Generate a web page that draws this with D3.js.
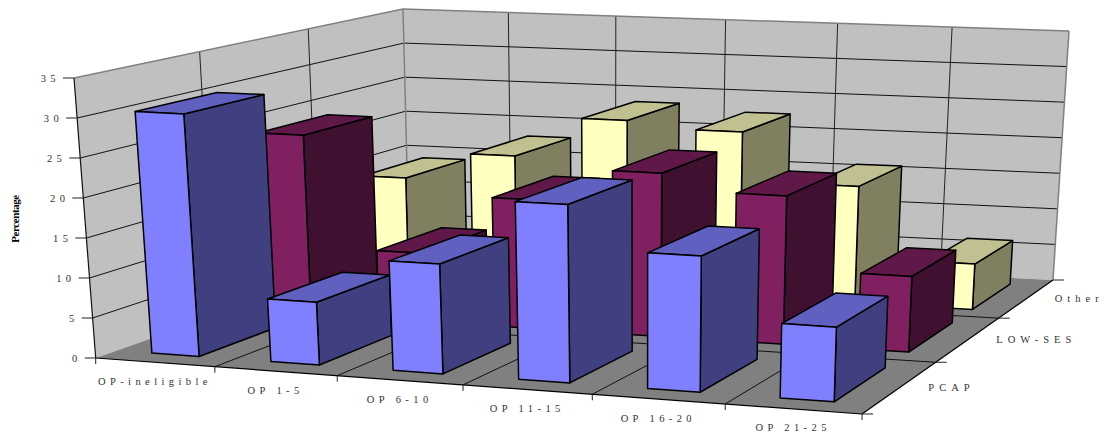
<!DOCTYPE html>
<html>
<head>
<meta charset="utf-8">
<style>
  html, body { margin: 0; padding: 0; background: #fff; }
  svg { display: block; }
  text { font-family: "Liberation Serif", serif; fill: #333; }
</style>
<script src="https://cdn.jsdelivr.net/npm/d3@7"></script>
</head>
<body>
<svg id="chart" width="1104" height="434"></svg>
<script>
const categories = ["OP-ineligible", "OP 1-5", "OP 6-10", "OP 11-15", "OP 16-20", "OP 21-25"];
const seriesNames = ["PCAP", "LOW-SES", "Other"];
const pcap = [30.4, 7.8, 13.5, 21.7, 16.4, 8.9];
const lowSes = [23.8, 9, 16.8, 21.1, 19, 9.6];
const other = [14, 17.8, 23.4, 22.5, 15.8, 6.1];
const valueTicks = [0, 5, 10, 15, 20, 25, 30, 35];
const seriesValues = [pcap, lowSes, other];
const palettes = [
  { front: "#8080ff", side: "#404080", top: "#6060c0" },
  { front: "#802060", side: "#401030", top: "#601848" },
  { front: "#ffffc0", side: "#808060", top: "#c0c090" }
];

// Data scales: category and series bands on the floor, percentage upward.
const xBand = d3.scaleBand().domain(categories).range([0, 1]).paddingInner(0.6).paddingOuter(0.3);
const zBand = d3.scaleBand().domain(seriesNames).range([0, 1]).paddingInner(1 / 3).paddingOuter(1 / 6);
const yLin = d3.scaleLinear().domain([0, 35]).range([0, 1]);

// The plot box: floor and ceiling quadrilaterals, front-left, front-right, back-right, back-left.
const floorCorners = [[95.7, 358], [862, 414], [1053, 280], [409, 247.5]];
const ceilingCorners = [[74, 78], [872, 116], [1069, 31], [403, 9]];
const widthEase = 0.047;

function squareToQuad(q) {
  const [[x0, y0], [x1, y1], [x2, y2], [x3, y3]] = q;
  const dx1 = x1 - x2, dx2 = x3 - x2, sx = x0 - x1 + x2 - x3;
  const dy1 = y1 - y2, dy2 = y3 - y2, sy = y0 - y1 + y2 - y3;
  const den = dx1 * dy2 - dx2 * dy1;
  const g = (sx * dy2 - dx2 * sy) / den;
  const h = (dx1 * sy - sx * dy1) / den;
  return [
    [x1 - x0 + g * x1, x3 - x0 + h * x3, x0],
    [y1 - y0 + g * y1, y3 - y0 + h * y3, y0],
    [g, h, 1]
  ];
}
const floorMap = squareToQuad(floorCorners);
const ceilingMap = squareToQuad(ceilingCorners);

function applyMap(H, x, z) {
  const r = i => H[i][0] * x + H[i][1] * z + H[i][2];
  return [r(0) / r(2), r(1) / r(2)];
}

// A point in the box: x and z across the floor, y from floor (0) to ceiling (1).
// Category widths grow a little more slowly toward the viewer than the bare quad implies.
function project(x, z, y) {
  const xe = x * (1 + widthEase) / (1 + widthEase * x);
  const a = applyMap(floorMap, xe, z), b = applyMap(ceilingMap, xe, z);
  return [a[0] + (b[0] - a[0]) * y, a[1] + (b[1] - a[1]) * y];
}

const svg = d3.select("#chart");
const outline = d3.line();
const polygon = (g, pts, fill, stroke, width) => g.append("path")
  .attr("d", outline(pts) + "Z")
  .attr("fill", fill).attr("stroke", stroke || "none").attr("stroke-width", width || 0)
  .attr("stroke-linejoin", "round");
const segment = (g, a, b, stroke, width) => g.append("path")
  .attr("d", outline([a, b])).attr("fill", "none")
  .attr("stroke", stroke).attr("stroke-width", width);

// Walls and floor
const box = svg.append("g");
polygon(box, [project(0, 0, 0), project(0, 1, 0), project(0, 1, 1), project(0, 0, 1)], "#c0c0c0");
polygon(box, [project(0, 1, 0), project(1, 1, 0), project(1, 1, 1), project(0, 1, 1)], "#c0c0c0");
polygon(box, [project(0, 0, 0), project(1, 0, 0), project(1, 1, 0), project(0, 1, 0)], "#808080");

// Horizontal rules on both walls, vertical rules at the category and series steps
const grid = svg.append("g");
valueTicks.slice(1, -1).forEach(t => {
  const y = yLin(t);
  segment(grid, project(0, 0, y), project(0, 1, y), "#111", 1);
  segment(grid, project(0, 1, y), project(1, 1, y), "#111", 1);
});
d3.range(1, categories.length).forEach(i => {
  const x = i / categories.length;
  segment(grid, project(x, 1, 0), project(x, 1, 1), "#222", 1);
  segment(grid, project(x, 0, 0), project(x, 1, 0), "#111", 1);
});
d3.range(1, seriesNames.length).forEach(i => {
  const z = i / seriesNames.length;
  segment(grid, project(0, z, 0), project(0, z, 1), "#222", 1);
  segment(grid, project(0, z, 0), project(1, z, 0), "#111", 1);
});

// Wall borders and axis edges
segment(grid, project(0, 0, 1), project(0, 1, 1), "#808080", 1.5);
segment(grid, project(0, 1, 1), project(1, 1, 1), "#808080", 1.5);
segment(grid, project(1, 1, 1), project(1, 1, 0), "#808080", 1.5);
segment(grid, project(0, 1, 0), project(0, 1, 1), "#808080", 1.5);
segment(grid, project(0, 0, 0), project(0, 0, 1), "#111", 1.2);
segment(grid, project(0, 0, 0), project(1, 0, 0), "#000", 1.2);
segment(grid, project(1, 0, 0), project(1, 1, 0), "#000", 1.2);

// Bars, painted from the back row forward and left to right
const bars = svg.append("g");
d3.range(seriesNames.length - 1, -1, -1).forEach(s => {
  categories.forEach((cat, c) => {
    const x0 = xBand(cat), x1 = x0 + xBand.bandwidth();
    const z0 = zBand(seriesNames[s]), z1 = z0 + zBand.bandwidth();
    const y = yLin(seriesValues[s][c]);
    const pal = palettes[s];
    const g = bars.append("g");
    polygon(g, [project(x1, z0, 0), project(x1, z1, 0), project(x1, z1, y), project(x1, z0, y)], pal.side, "#000", 1.5);
    polygon(g, [project(x0, z0, y), project(x1, z0, y), project(x1, z1, y), project(x0, z1, y)], pal.top, "#000", 1.5);
    polygon(g, [project(x0, z0, 0), project(x1, z0, 0), project(x1, z0, y), project(x0, z0, y)], pal.front, "#000", 1.5);
  });
});

// Axis ticks and labels
const axes = svg.append("g");
const labelStyle = (sel, spacing = 4.4) => sel.attr("font-size", 10.5).attr("letter-spacing", spacing)
  .attr("dominant-baseline", "middle").attr("dy", 1.5);

valueTicks.forEach(t => {
  const [px, py] = project(0, 0, yLin(t));
  segment(axes, [px - 11, py], [px, py], "#222", 1);
  axes.append("text").attr("x", px - 14).attr("y", py).attr("text-anchor", "end")
    .call(labelStyle).text(t);
});

d3.range(0, categories.length + 1).forEach(i => {
  const [px, py] = project(i / categories.length, 0, 0);
  segment(axes, [px, py], [px, py + 6], "#222", 1);
});
categories.forEach((cat, i) => {
  const [px, py] = project((i + 0.5) / categories.length, 0, 0);
  axes.append("text").attr("x", px).attr("y", py + 18.5).attr("text-anchor", "middle")
    .call(labelStyle).text(cat);
});

d3.range(0, seriesNames.length + 1).forEach(i => {
  const [px, py] = project(1, i / seriesNames.length, 0);
  segment(axes, [px, py], [px + 11, py], "#222", 1);
});
seriesNames.forEach((name, i) => {
  const [px, py] = project(1, (i + 0.5) / seriesNames.length, 0);
  axes.append("text").attr("x", px + 28).attr("y", py).call(labelStyle, 5).text(name);
});

axes.append("text").attr("transform", "translate(19,219) rotate(-90)")
  .attr("text-anchor", "middle").attr("font-size", 11).attr("font-weight", "bold")
  .attr("letter-spacing", -0.4).style("fill", "#000").text("Percentage");
</script>
</body>
</html>
